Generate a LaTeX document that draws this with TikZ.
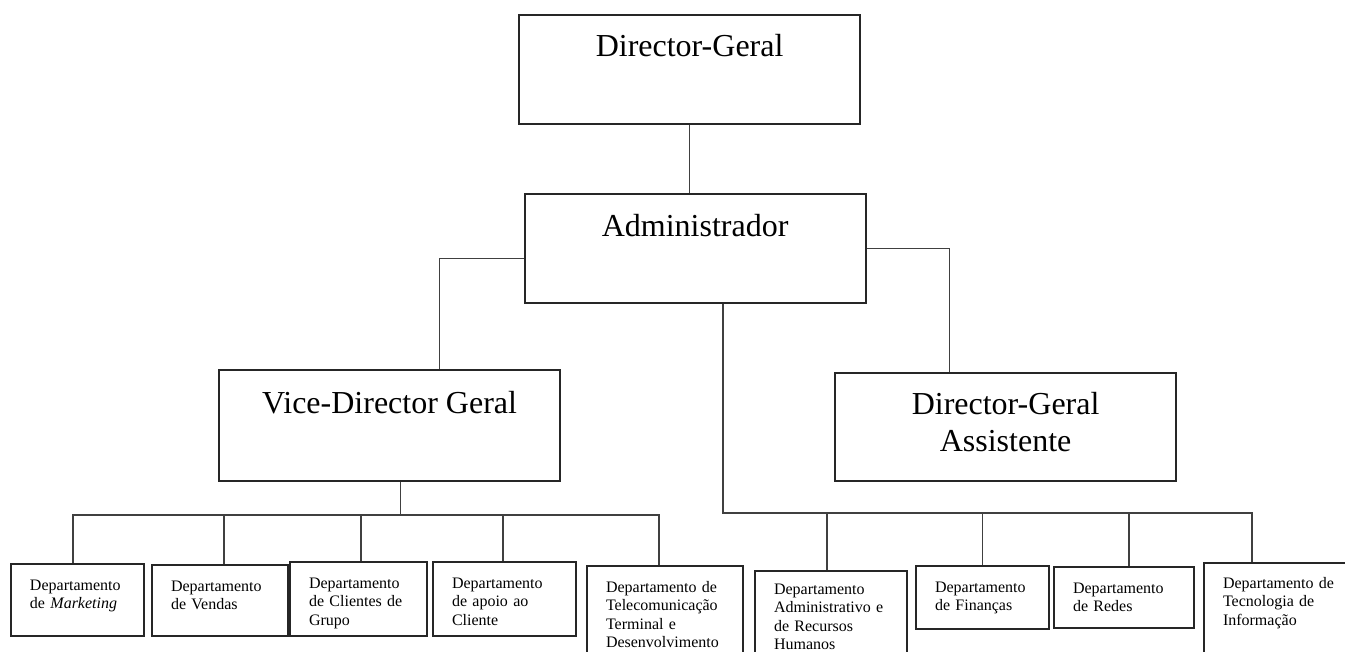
\documentclass[tikz,border=0pt]{standalone}
\usepackage{fontspec}
\setmainfont{Liberation Serif}
\tikzset{
	chief/.style={
		% The shape:
		rectangle,anchor=north west,inner sep=0pt,
		% The size:
		minimum width=341pt,
		% The border:
		line width=2.2pt,
		draw=black!85,
		% The text:
		font=\fontsize{32}{37}\selectfont,
	}}
\tikzset{
		dept/.style={
			% The shape:
			rectangle,anchor=north west,
			inner xsep=19pt,inner ysep=0pt,
			% The border:
			line width=2pt,
			draw=black!85,
			% The text (first line sits 26pt below the top):
			align=left,text height=26pt,
			font=\fontsize{16}{18.5}\selectfont,
		}}
\tikzset{
		link/.style={
			line width=1.1pt,draw=black!75,
		}}

\begin{document}
\begin{tikzpicture}[x=1pt,y=-1pt]
				\useasboundingbox (0,0) rectangle (1345,652);
				\clip (0,0) rectangle (1345,652);
				% the heads
				\node[chief,text height=41pt,text depth=68pt] (dg) at (518,14) {Director-Geral};
				\node[chief,text height=42pt,text depth=67pt] (adm) at (523.5,193) {Administrador};
				\node[chief,text height=43pt,text depth=68pt] (vdg) at (218,369) {Vice-Director Geral};
				\node[chief,text width=300pt,align=center,text height=41pt,text depth=67pt] (dga) at (834,372) {Director-Geral\\Assistente};
				% the departments
				\node[dept,text width=95pt,text depth=46pt] (d-mkt) at (10,563) {Departamento\\de \textit{Marketing}};
				\node[dept,text width=98pt,text depth=45pt] (d-ven) at (151,564) {Departamento\\de Vendas};
				\node[dept,text width=99pt,text depth=48pt] (d-cli) at (289,561) {Departamento\\de Clientes de\\Grupo};
				\node[dept,text width=105pt,text depth=48pt] (d-apo) at (432,561) {Departamento\\de apoio ao\\Cliente};
				\node[dept,text width=118pt,text depth=90pt] (d-tel) at (586,565) {Departamento de\\Telecomunicação\\Terminal e\\Desenvolvimento};
				\node[dept,text width=114pt,text height=23pt,text depth=90pt] (d-arh) at (754,570) {Departamento\\Administrativo e\\de Recursos\\Humanos};
				\node[dept,text width=95pt,text depth=37pt] (d-fin) at (915,565) {Departamento\\de Finanças};
				\node[dept,text width=102pt,text depth=35pt] (d-red) at (1053,566) {Departamento\\de Redes};
				\node[dept,text width=112pt,text height=25pt,text depth=90pt] (d-ti) at (1203,562) {Departamento de\\Tecnologia de\\Informação};
				% links between the heads
				\draw[link] (dg.south) -- (dg.south |- adm.north);
				\draw[link] ([yshift=-9.5pt]adm.west) -| ([xshift=50pt]vdg.north);
				\draw[link] (adm.east) -| ([xshift=-56.5pt]dga.north);
				% left bus, under the vice-director
				\coordinate (l-bus) at (400.5,515);
				\draw[link] (vdg.south -| l-bus) -- (l-bus);
				\draw[link] ([xshift=-4.5pt]d-mkt.north) |- (l-bus) -| ([xshift=-6pt]d-tel.north);
				\foreach \d/\s in {d-ven/4,d-cli/2.5,d-apo/-1.5}
					\draw[link] ([xshift=\s pt]\d.north) -- ([xshift=\s pt]\d.north |- l-bus);
				% right bus, under the administrator
				\coordinate (r-bus) at (723,513);
				\draw[link] (adm.south -| r-bus) -- (r-bus) -| ([xshift=-27pt]d-ti.north);
				\foreach \d/\s in {d-arh/-4,d-fin/0,d-red/5}
					\draw[link] ([xshift=\s pt]\d.north) -- ([xshift=\s pt]\d.north |- r-bus);
\end{tikzpicture}
\end{document}
